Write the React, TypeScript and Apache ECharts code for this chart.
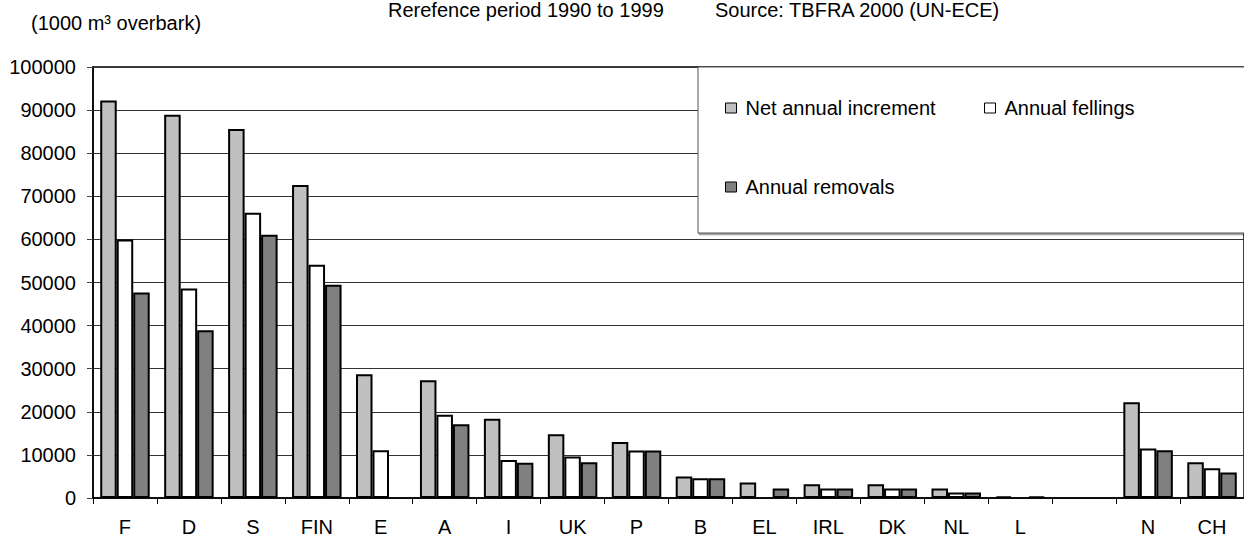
import React, { useEffect, useRef } from "react";
import * as echarts from "echarts";

// Countries (the empty slot separates EU members from N and CH)
const categories = ["F", "D", "S", "FIN", "E", "A", "I", "UK", "P", "B", "EL", "IRL", "DK", "NL", "L", "", "N", "CH"];

// Values in 1000 m³ overbark; null = no figure reported
const netAnnualIncrement = [92200, 88900, 85600, 72600, 28700, 27300, 18400, 14800, 13000, 5000, 3600, 3200, 3200, 2200, 400, null, 22200, 8300];
const annualFellings = [60000, 48600, 66200, 54100, 11100, 19300, 8800, 9600, 11000, 4600, null, 2200, 2200, 1300, null, null, 11500, 6900];
const annualRemovals = [47700, 38900, 61100, 49500, null, 17100, 8200, 8300, 11000, 4600, 2200, 2200, 2200, 1300, 300, null, 11100, 5900];

const yTicks = { min: 0, max: 100000, interval: 10000 };

const titleLeft = "Rerefence period 1990 to 1999";
const titleRight = "Source: TBFRA 2000 (UN-ECE)";
const unitLabel = "(1000 m\u00b3 overbark)";

const FONT = "'Liberation Sans', Arial, sans-serif";
const FS = 20;

export default function App() {
  const ref = useRef<HTMLDivElement>(null);

  useEffect(() => {
    if (!ref.current) return;
    const chart = echarts.init(ref.current, undefined, { renderer: "svg" });

    const legendCommon = {
      orient: "horizontal",
      padding: 0,
      itemWidth: 11,
      itemHeight: 10,
      icon: "rect",
      selectedMode: false,
      itemStyle: { borderWidth: 1, borderColor: "#000" },
      textStyle: { fontSize: FS, color: "#000", fontFamily: FONT, padding: [0, 0, 0, 4] },
      z: 10,
    };

    const barStyle = (color: string) => ({
      color,
      borderColor: "#000",
      borderWidth: 2,
    });

    chart.setOption({
      animation: false,
      backgroundColor: "#fff",
      textStyle: { fontFamily: FONT },
      grid: {
        left: 93,
        top: 67,
        right: -12,
        bottom: 38,
        show: true,
        borderColor: "#000",
        borderWidth: 1.5,
        backgroundColor: "transparent",
      },
      legend: [
        { ...legendCommon, data: ["Net annual increment"], left: 725, top: 98 },
        { ...legendCommon, data: ["Annual fellings"], left: 984, top: 98 },
        { ...legendCommon, data: ["Annual removals"], left: 725, top: 177 },
      ],
      graphic: [
        {
          type: "rect",
          z: 5,
          shape: { x: 698, y: 67, width: 620, height: 166 },
          style: {
            fill: "#fff",
            stroke: "#555",
            lineWidth: 1,
            shadowColor: "rgba(0,0,0,0.45)",
            shadowOffsetX: 1,
            shadowOffsetY: 1.5,
            shadowBlur: 0,
          },
        },
        {
          type: "text",
          x: 388,
          y: 0,
          style: { text: titleLeft, fill: "#000", font: `${FS}px ${FONT}`, verticalAlign: "top" },
        },
        {
          type: "text",
          x: 715,
          y: 0,
          style: { text: titleRight, fill: "#000", font: `${FS}px ${FONT}`, verticalAlign: "top" },
        },
        {
          type: "text",
          x: 31,
          y: 23,
          style: { text: unitLabel, fill: "#000", font: `${FS}px ${FONT}`, verticalAlign: "middle" },
        },
      ],
      xAxis: {
        type: "category",
        data: categories,
        boundaryGap: true,
        axisLine: { show: true, lineStyle: { color: "#000", width: 1.5 } },
        axisTick: { show: true, interval: 0, alignWithLabel: false, length: 6, lineStyle: { color: "#000" } },
        axisLabel: { interval: 0, margin: 19, fontSize: FS, color: "#000", fontFamily: FONT },
        splitLine: { show: false },
      },
      yAxis: {
        type: "value",
        min: yTicks.min,
        max: yTicks.max,
        interval: yTicks.interval,
        axisLine: { show: true, lineStyle: { color: "#000", width: 1.5 } },
        axisTick: { show: true, length: 6, lineStyle: { color: "#444" } },
        axisLabel: {
          margin: 17,
          fontSize: FS,
          color: "#000",
          fontFamily: FONT,
          formatter: (v: number) => String(v),
        },
        splitLine: { show: true, lineStyle: { color: "#333", width: 1 } },
      },
      series: [
        {
          name: "Net annual increment",
          type: "bar",
          data: netAnnualIncrement,
          barGap: "0%",
          barCategoryGap: "22.6%",
          itemStyle: barStyle("#c0c0c0"),
        },
        {
          name: "Annual fellings",
          type: "bar",
          data: annualFellings,
          barGap: "0%",
          barCategoryGap: "22.6%",
          itemStyle: barStyle("#ffffff"),
        },
        {
          name: "Annual removals",
          type: "bar",
          data: annualRemovals,
          barGap: "0%",
          barCategoryGap: "22.6%",
          itemStyle: barStyle("#808080"),
        },
      ],
    });

    return () => chart.dispose();
  }, []);

  return (
    <div
      ref={ref}
      style={{ position: "absolute", left: 0, top: 0, width: 1244, height: 537, background: "#fff" }}
    />
  );
}
